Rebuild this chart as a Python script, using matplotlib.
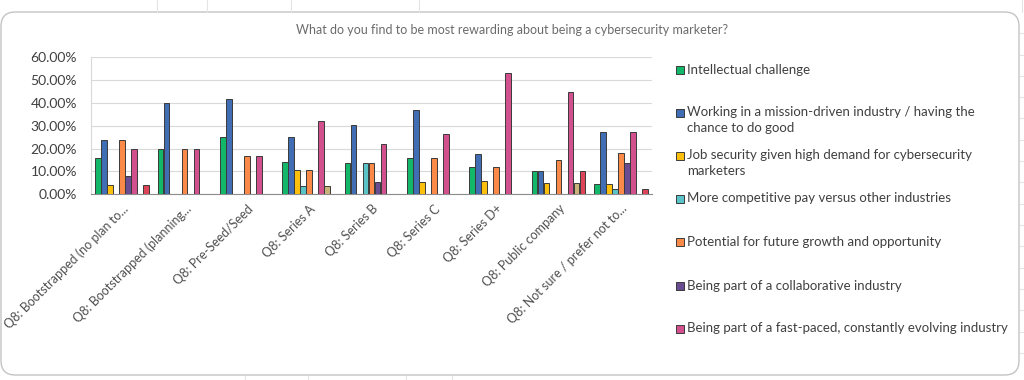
import numpy as np
import matplotlib
matplotlib.use("Agg")
import matplotlib.pyplot as plt
from matplotlib.patches import FancyBboxPatch, Rectangle
from matplotlib.lines import Line2D
from matplotlib.ticker import PercentFormatter

plt.rcParams['font.family'] = ['Lato', 'DejaVu Sans']

# categories (funding stage)
categories = [
    "Q8: Bootstrapped (no plan to...",
    "Q8: Bootstrapped (planning...",
    "Q8: Pre-Seed/Seed",
    "Q8: Series A",
    "Q8: Series B",
    "Q8: Series C",
    "Q8: Series D+",
    "Q8: Public company",
    "Q8: Not sure / prefer not to...",
]

series_names = [
    "Intellectual challenge",
    "Working in a mission-driven industry / having the\nchance to do good",
    "Job security given high demand for cybersecurity\nmarketers",
    "More competitive pay versus other industries",
    "Potential for future growth and opportunity",
    "Being part of a collaborative industry",
    "Being part of a fast-paced, constantly evolving industry",
    "Other",
    "None",
]

# values in percent, one list per series (order of categories)
intellectual = [16.0, 20.0, 25.0, 14.29, 13.64, 15.79, 11.76, 10.0, 4.55]
mission      = [24.0, 40.0, 41.67, 25.0, 30.43, 36.84, 17.65, 10.0, 27.27]
job_security = [4.0, 0, 0, 10.71, 0, 5.26, 5.88, 5.0, 4.55]
pay          = [0, 0, 0, 3.57, 13.64, 0, 0, 0, 2.27]
growth       = [24.0, 20.0, 16.67, 10.71, 13.64, 15.79, 11.76, 15.0, 18.18]
collab       = [8.0, 0, 0, 0, 5.45, 0, 0, 0, 13.64]
fast_paced   = [20.0, 20.0, 16.67, 32.14, 22.22, 26.32, 52.94, 45.0, 27.27]
other        = [0, 0, 0, 3.57, 0, 0, 0, 5.0, 0]
none_        = [4.0, 0, 0, 0, 0, 0, 0, 10.0, 2.27]

series = [intellectual, mission, job_security, pay, growth, collab,
          fast_paced, other, none_]
colors = ["#12B76A", "#416DB5", "#FBBF0C", "#5AC3C8", "#FB8A48",
          "#6A4C93", "#D2508E", "#C9B37A", "#DE4457"]

W, H = 1024, 380
fig = plt.figure(figsize=(W / 100, H / 100), dpi=100)

def fx(px):
    return px / W

def fy(py):
    return 1 - py / H

# faint spreadsheet gridlines behind the chart card
for x in [157, 207, 291, 419, 1022]:
    fig.add_artist(Line2D([fx(x), fx(x)], [fy(0), fy(12)], color="#E4E4E4", lw=0.8))
for x in [245, 308, 406, 452]:
    fig.add_artist(Line2D([fx(x), fx(x)], [fy(376), fy(380)], color="#E4E4E4", lw=0.8))
for y in [33, 55, 76, 97, 118, 140, 161, 182, 204, 225, 246, 268, 289, 310, 332, 353]:
    fig.add_artist(Line2D([fx(1020), fx(1024)], [fy(y), fy(y)], color="#E4E4E4", lw=0.8))

# chart card
card = FancyBboxPatch((fx(1), fy(375)), fx(1019) - fx(1), fy(12) - fy(375),
                      boxstyle="round,pad=0,rounding_size=0.014",
                      transform=fig.transFigure, facecolor="white",
                      edgecolor="#C4C4C4", lw=1.0, zorder=0,
                      mutation_aspect=W / H)
fig.add_artist(card)

fig.text(0.5, fy(30), "What do you find to be most rewarding about being a cybersecurity marketer?",
         ha="center", va="center", fontsize=9, color="#6B6B6B")

ax = fig.add_axes([fx(91), fy(194.3), fx(652) - fx(91), fy(57.3) - fy(194.3)])
ax.set_facecolor("none")

n = len(series)
x = np.arange(len(categories))
group_w = 0.87
bw = group_w / n
for i, (vals, c) in enumerate(zip(series, colors)):
    ax.bar(x - group_w / 2 + bw * (i + 0.5), vals, width=bw * 0.92,
           color=c, edgecolor="#3A3A3A", linewidth=0.7, zorder=3)

ax.set_ylim(0, 60)
ax.set_xlim(-0.5, len(categories) - 0.5)
ax.set_yticks(np.arange(0, 61, 10))
ax.yaxis.set_major_formatter(PercentFormatter(decimals=2))
ax.grid(axis="y", color="#D9D9D9", lw=0.8, zorder=0)
ax.tick_params(axis="y", length=0, labelsize=10, colors="#404040", pad=10)
ax.tick_params(axis="x", length=0, pad=6)
ax.set_xticks(x)
ax.set_xticklabels(categories, rotation=45, ha="right", rotation_mode="anchor",
                   fontsize=9, color="#505050")
for s in ["top", "right"]:
    ax.spines[s].set_visible(False)
ax.spines["left"].set_color("#D9D9D9")
ax.spines["bottom"].set_color("#8C8C8C")

# legend (first seven series, as in the original)
leg_y = [70, 113, 156, 199, 242, 286, 329]
for name, c, y in zip(series_names[:7], colors[:7], leg_y):
    fig.add_artist(Rectangle((fx(676), fy(y + 4)), fx(8), fy(0) - fy(8),
                             transform=fig.transFigure, facecolor=c,
                             edgecolor="#3A3A3A", lw=0.7))
    fig.text(fx(687), fy(y - 6.5), name, ha="left", va="top", fontsize=9.5,
             color="#404040", linespacing=1.35)

fig.savefig("out.png", dpi=100)
